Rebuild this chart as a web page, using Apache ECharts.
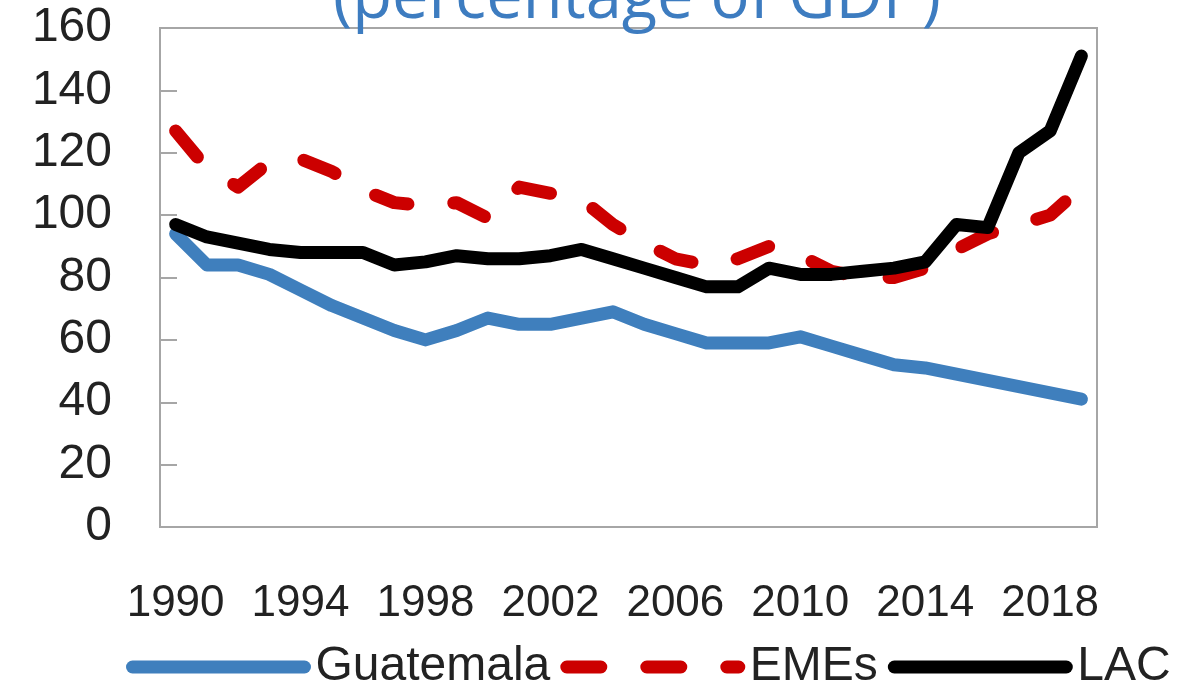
<!DOCTYPE html>
<html>
<head>
<meta charset="utf-8">
<script src="https://cdn.jsdelivr.net/npm/echarts@6/dist/echarts.min.js"></script>
<style>
html,body{margin:0;padding:0;background:#fff;}
#chart{width:1199px;height:698px;}
</style>
</head>
<body>
<div id="chart"></div>
<script>
const years = ['1990','1991','1992','1993','1994','1995','1996','1997','1998','1999','2000','2001','2002','2003','2004','2005','2006','2007','2008','2009','2010','2011','2012','2013','2014','2015','2016','2017','2018','2019'];
const guatemala = [94,84,84,81,76,71,67,63,60,63,67,65,65,67,69,65,62,59,59,59,61,58,55,52,51,49,47,45,43,41];
const emes = [127,115,109,117,118,114,108,104,103,104,99,109,107,105,97,91,86,84,86,90,87,82,80,80,83,89,94,97,100,109];
const lac = [97,93,91,89,88,88,88,84,85,87,86,86,87,89,86,83,80,77,77,83,81,81,82,83,85,97,96,120,127,151];
const titleText = '(percentage of GDP)';

const FONT = '"Liberation Sans", Arial, sans-serif';
const chart = echarts.init(document.getElementById('chart'));
chart.setOption({
  animation: false,
  backgroundColor: '#ffffff',
  graphic: [{
    type: 'text',
    left: 333,
    top: -33,
    style: {
      text: titleText,
      fontFamily: '"Open Sans", "Noto Sans", sans-serif',
      fontSize: 65,
      fill: '#3d7cc0'
    }
  }],
  grid: {
    left: 160, right: 102, top: 28, bottom: 171,
    show: true, borderColor: '#a6a6a6', borderWidth: 2, backgroundColor: 'transparent'
  },
  legend: {
    left: 126,
    right: 0,
    top: 643,
    padding: 0,
    itemWidth: 172,
    itemHeight: 14,
    itemGap: 10,
    lineStyle: { width: 13, cap: 'round' },
    itemStyle: { color: 'rgba(0,0,0,0)', borderWidth: 0, opacity: 0 },
    textStyle: { fontFamily: FONT, fontSize: 48, color: '#222', padding: [0,0,0,6] },
    data: ['Guatemala', 'EMEs', 'LAC']
  },
  xAxis: {
    type: 'category',
    data: years,
    boundaryGap: true,
    axisLine: { show: false },
    axisTick: { show: false },
    axisLabel: { interval: 3, margin: 55, fontFamily: FONT, fontSize: 44, color: '#222' },
    splitLine: { show: false }
  },
  yAxis: {
    type: 'value',
    min: 0, max: 160, interval: 20,
    axisLine: { show: false },
    axisTick: { show: true, inside: true, length: 17, lineStyle: { color: '#a6a6a6', width: 2 } },
    axisLabel: { margin: 48, fontFamily: FONT, fontSize: 48, color: '#222' },
    splitLine: { show: false }
  },
  series: [
    { name: 'Guatemala', type: 'line', data: guatemala, symbol: 'none',
      lineStyle: { color: '#3f7fbd', width: 13, cap: 'round', join: 'round' }, itemStyle: { color: '#3f7fbd' } },
    { name: 'EMEs', type: 'line', data: emes, symbol: 'none',
      lineStyle: { color: '#cc0000', width: 13, type: [34, 46], cap: 'round', join: 'round' }, itemStyle: { color: '#cc0000' } },
    { name: 'LAC', type: 'line', data: lac, symbol: 'none',
      lineStyle: { color: '#000000', width: 13, cap: 'round', join: 'round' }, itemStyle: { color: '#000000' } }
  ]
});
</script>
</body>
</html>
